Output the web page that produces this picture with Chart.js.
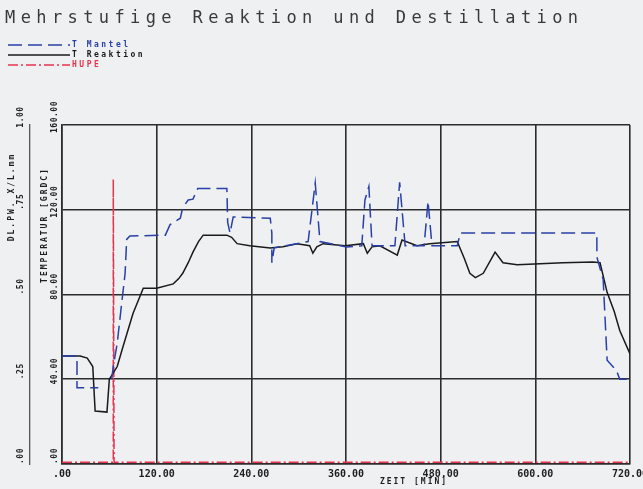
<!DOCTYPE html>
<html>
<head>
<meta charset="utf-8">
<script src="https://cdn.jsdelivr.net/npm/chart.js@4"></script>
<style>
  html, body { margin: 0; padding: 0; background: #eef0f1; }
  #wrap { width: 643px; height: 489px; position: relative; }
</style>
</head>
<body>
<div id="wrap"><canvas id="chart"></canvas></div>
<script>
const chartTitle = "Mehrstufige Reaktion und Destillation";
const xTitle = "ZEIT [MIN]";
const yTitle = "TEMPERATUR [GRDC]";
const y2Title = "DL.PW. X/L.mm";

// T Mantel (min, degC)
const mantelTime = [0, 19, 19, 46, 55, 63, 65, 70, 76, 80, 82, 86, 131, 137, 150, 153, 160, 166, 172, 209, 210, 213, 217, 264, 266, 266, 269, 312, 321, 327, 361, 380, 384, 389, 393, 422, 428, 435, 459, 464, 469, 501, 505, 678, 678, 686, 691, 703, 707, 720];
const mantelTemp = [51, 51, 36, 36, null, 40, 46, 57, 77, 90, 106, 107.6, 108, 113, 116, 121, 124.6, 125, 130, 130, 114, 109, 116.6, 116, 109, 95, 102, 105, 132.6, 105, 102.4, 103, 124.6, 131, 103, 103, 133, 103, 103, 124, 103, 103, 109, 109, 97.7, 87, 49, 44, 40, 40];

// T Reaktion (min, degC)
const reaktionTime = [0, 23, 32, 39, 42, 57, 60, 70, 77, 90, 103, 120, 141, 148, 153, 160, 166, 173, 179, 209, 215, 222, 238, 264, 280, 298, 314, 318, 323, 331, 359, 382, 387, 393, 403, 425, 431, 450, 466, 501, 510, 517, 524, 534, 549, 559, 577, 635, 673, 682, 691, 700, 707, 720];
const reaktionTemp = [51, 51, 50, 46, 25, 24.5, 40, 46, 55, 71, 83, 83, 85, 87.5, 90, 95, 100, 105, 108, 108, 107, 104, 103, 102, 102.5, 104, 103, 99.5, 102.5, 104, 103, 104, 99.5, 102.5, 103, 98.6, 105.7, 103, 104, 105, 97, 90, 88, 90, 100, 95, 94, 95, 95.3, 95, 81, 72, 63, 52];

// HUPE signal (min, 0..1)
const hupeTime = [0, 65, 65, 66, 720];
const hupeValue = [0.005, 0.005, 0.84, 0.005, 0.005];

const xTicks = [0, 120, 240, 360, 480, 600, 720];
const tempTicks = [0, 40, 80, 120, 160];
const hupeTicks = [0, 0.25, 0.5, 0.75, 1];

const toPoints = (xs, ys) => xs.map((x, i) => ({ x: x, y: ys[i] }));
const fmt = v => {
  const s = v.toFixed(2);
  return s.startsWith("0.") ? s.slice(1) : s;
};

const plotterText = {
  id: "plotterText",
  afterDraw(chart) {
    const ctx = chart.ctx;
    ctx.save();
    ctx.textBaseline = "middle";

    // title
    ctx.font = '17px "DejaVu Sans Mono"';
    ctx.letterSpacing = "5.4px";
    ctx.fillStyle = "#3a3a3a";
    ctx.fillText(chartTitle, 5, 19);

    // legend
    chart.data.datasets.forEach((ds, i) => {
      const y = 45 + i * 10;
      ctx.setLineDash(ds.borderDash || []);
      ctx.strokeStyle = ds.borderColor;
      ctx.lineWidth = 1.5;
      ctx.beginPath();
      ctx.moveTo(8, y);
      ctx.lineTo(70, y);
      ctx.stroke();
      ctx.setLineDash([]);
      ctx.font = 'bold 8px "DejaVu Sans Mono"';
      ctx.letterSpacing = "2.5px";
      ctx.fillStyle = ds.borderColor;
      ctx.textAlign = "left";
      ctx.fillText(ds.label, 72, y);
    });

    // rotated y tick labels
    ctx.fillStyle = "#1e1e1e";
    ctx.font = 'bold 8px "DejaVu Sans Mono"';
    ctx.letterSpacing = "0.5px";
    ctx.textAlign = "center";
    const yScale = chart.scales.y;
    tempTicks.forEach(v => {
      ctx.save();
      ctx.translate(55, yScale.getPixelForValue(v) - 8);
      ctx.rotate(-Math.PI / 2);
      ctx.fillText(fmt(v), 0, 0);
      ctx.restore();
    });
    const y2Scale = chart.scales.y2;
    hupeTicks.forEach(v => {
      ctx.save();
      ctx.translate(21, y2Scale.getPixelForValue(v) - 8);
      ctx.rotate(-Math.PI / 2);
      ctx.fillText(fmt(v), 0, 0);
      ctx.restore();
    });

    // axis titles
    ctx.font = 'bold 8px "DejaVu Sans Mono"';
    ctx.letterSpacing = "2px";
    ctx.save();
    ctx.translate(45, 225);
    ctx.rotate(-Math.PI / 2);
    ctx.fillText(yTitle, 0, 0);
    ctx.restore();
    ctx.save();
    ctx.translate(12, 197);
    ctx.rotate(-Math.PI / 2);
    ctx.fillText(y2Title, 0, 0);
    ctx.restore();
    ctx.fillText(xTitle, 414, 482);

    ctx.restore();
  }
};

const gridColor = "#2c2c2c";

new Chart(document.getElementById("chart"), {
  type: "line",
  data: {
    datasets: [
      {
        label: "T Mantel",
        data: toPoints(mantelTime, mantelTemp),
        borderColor: "#2b3fa8",
        borderDash: [14, 6],
        borderWidth: 1.5,
        yAxisID: "y"
      },
      {
        label: "T Reaktion",
        data: toPoints(reaktionTime, reaktionTemp),
        borderColor: "#1a1a1a",
        borderWidth: 1.5,
        yAxisID: "y"
      },
      {
        label: "HUPE",
        data: toPoints(hupeTime, hupeValue),
        borderColor: "#e8334f",
        borderDash: [10, 3, 2, 3],
        borderWidth: 1.5,
        yAxisID: "y2"
      }
    ]
  },
  options: {
    responsive: true,
    maintainAspectRatio: false,
    animation: false,
    spanGaps: false,
    layout: { padding: { top: 125, left: 0, right: 13, bottom: 0 } },
    elements: { point: { radius: 0 }, line: { tension: 0 } },
    plugins: { legend: { display: false }, tooltip: { enabled: false } },
    scales: {
      x: {
        type: "linear",
        min: 0,
        max: 720,
        afterBuildTicks: s => { s.ticks = xTicks.map(v => ({ value: v })); },
        afterFit: s => { s.height = 25; s.paddingLeft = 0; s.paddingRight = 0; },
        grid: { color: gridColor, lineWidth: 1.6, drawTicks: false },
        border: { display: true, color: gridColor, width: 1.6 },
        ticks: {
          padding: 4,
          color: "#1e1e1e",
          font: { family: "DejaVu Sans Mono", size: 10, weight: "bold" },
          maxRotation: 0,
          callback: v => fmt(v)
        }
      },
      y: {
        position: "left",
        weight: 0,
        min: 0,
        max: 160,
        afterBuildTicks: s => { s.ticks = tempTicks.map(v => ({ value: v })); },
        afterFit: s => { s.width = 32; },
        grid: { color: gridColor, lineWidth: 1.6, drawTicks: false },
        border: { display: true, color: gridColor, width: 1.6 },
        ticks: { display: false }
      },
      y2: {
        position: "left",
        weight: 1,
        min: 0,
        max: 1,
        afterBuildTicks: s => { s.ticks = hupeTicks.map(v => ({ value: v })); },
        afterFit: s => { s.width = 30; },
        grid: { display: false },
        border: { display: true, color: "#555", width: 1.3 },
        ticks: { display: false }
      }
    }
  },
  plugins: [plotterText]
});
</script>
</body>
</html>
